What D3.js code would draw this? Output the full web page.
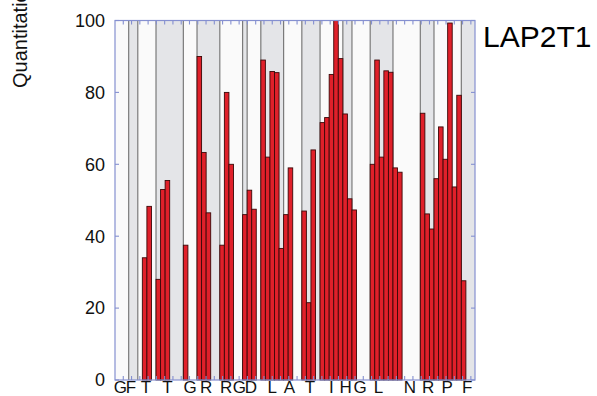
<!DOCTYPE html>
<html>
<head>
<meta charset="utf-8">
<script src="https://cdn.jsdelivr.net/npm/d3@7"></script>
<style>
  html, body { margin: 0; padding: 0; background: #fff; }
  svg { display: block; }
</style>
</head>
<body>
<div id="chart"></div>
<script>
// bar slots (position along the sequence axis) and their quantitation values
const slots = [6, 7, 9, 10, 11, 15, 18, 19, 20, 23, 24, 25, 28, 29, 30, 32, 33, 34, 35, 36, 37, 38,
  41, 42, 43, 45, 46, 47, 48, 49, 50, 51, 52, 56, 57, 58, 59, 60, 61, 62, 67, 68, 69, 70, 71, 72, 73, 74, 75, 76];
const values = [34, 48.3, 28, 53, 55.5, 37.5, 90, 63.3, 46.5, 37.5, 80, 60, 46, 52.8, 47.5, 89, 62, 85.8, 85.5, 36.6, 46, 59,
  47, 21.5, 64, 71.6, 73, 85, 100, 89.4, 74, 50.4, 47.3, 60, 89, 62, 86, 85.6, 59, 57.8, 74.2, 46.2, 42, 56, 70.4, 61.4, 99.3, 53.7, 79.2, 27.6];

// peptide band boundaries (alternating white / grey)
const bandEdges = [0, 3, 5, 9, 15, 18, 23, 28, 29, 32, 37, 41, 45, 50, 52, 56, 61, 67, 70, 76, 79];

// residue letters under the axis and where they sit
const letters = ["G", "F", "T", "T", "G", "R", "R", "G", "D", "L", "A", "T", "I", "H", "G", "L", "N", "R", "P", "F"];
const letterPos = [1.2, 3.5, 6.8, 11.5, 16.5, 20, 24.4, 27.3, 29.8, 34.5, 38.3, 42.8, 47.5, 50.6, 53.8, 57.8, 64.7, 68.7, 72.9, 77.3];

const yTicks = [0, 20, 40, 60, 80, 100];
const residueCount = 43;

const width = 597, height = 396;
const plotLeft = 115, plotRight = 475, plotTop = 20.5, plotBottom = 380;
const frameColor = "#8590d0";

const svg = d3.select("#chart").append("svg")
  .attr("width", width)
  .attr("height", height)
  .attr("font-family", "'Liberation Sans', Arial, sans-serif");

const x = d3.scaleLinear().domain([0, 79]).range([plotLeft, plotRight]);
const y = d3.scaleLinear().domain([0, 100]).range([plotBottom, plotTop]);
const res = d3.scaleLinear().domain([0, residueCount + 0.5]).range([plotLeft, plotRight]);

// background bands
const bands = d3.pairs(bandEdges);
svg.append("g")
  .selectAll("rect")
  .data(bands)
  .join("rect")
  .attr("x", d => x(d[0]))
  .attr("y", plotTop)
  .attr("width", d => x(d[1]) - x(d[0]))
  .attr("height", plotBottom - plotTop)
  .attr("fill", (d, i) => i % 2 ? "#e4e5e8" : "#fafafa");

// band separators
svg.append("g")
  .attr("stroke", "#7a7a7a")
  .attr("stroke-width", 1.2)
  .selectAll("line")
  .data(bandEdges.slice(1, -1))
  .join("line")
  .attr("x1", d => x(d))
  .attr("x2", d => x(d))
  .attr("y1", plotTop)
  .attr("y2", plotBottom);

// bars
svg.append("g")
  .selectAll("rect")
  .data(slots)
  .join("rect")
  .attr("x", d => x(d))
  .attr("y", (d, i) => y(values[i]))
  .attr("width", d => x(d + 1) - x(d))
  .attr("height", (d, i) => y(0) - y(values[i]))
  .attr("fill", "#e0202a")
  .attr("stroke", "#3a0808")
  .attr("stroke-width", 0.9);

// frame
svg.append("rect")
  .attr("x", plotLeft)
  .attr("y", plotTop)
  .attr("width", plotRight - plotLeft)
  .attr("height", plotBottom - plotTop)
  .attr("fill", "none")
  .attr("stroke", frameColor)
  .attr("stroke-width", 1.2);

// residue ticks, top and bottom, pointing in
const rt = d3.range(1, residueCount + 1);
const tickG = svg.append("g").attr("stroke", frameColor).attr("stroke-width", 1.1);
tickG.selectAll(".tt").data(rt).join("line")
  .attr("x1", d => res(d)).attr("x2", d => res(d))
  .attr("y1", plotTop).attr("y2", plotTop + 4);
tickG.selectAll(".tb").data(rt).join("line")
  .attr("x1", d => res(d)).attr("x2", d => res(d))
  .attr("y1", plotBottom).attr("y2", plotBottom - 4);

// value ticks on both sides, pointing in
tickG.selectAll(".yl").data(yTicks).join("line")
  .attr("x1", plotLeft).attr("x2", plotLeft + 4)
  .attr("y1", d => y(d)).attr("y2", d => y(d));
tickG.selectAll(".yr").data(yTicks).join("line")
  .attr("x1", plotRight).attr("x2", plotRight - 4)
  .attr("y1", d => y(d)).attr("y2", d => y(d));

// y tick labels
svg.append("g")
  .selectAll("text")
  .data(yTicks)
  .join("text")
  .attr("x", 105)
  .attr("y", d => y(d))
  .attr("dy", "0.35em")
  .attr("text-anchor", "end")
  .attr("font-size", 18)
  .attr("fill", "#111")
  .text(d => d);

// residue letters
svg.append("g")
  .selectAll("text")
  .data(letters)
  .join("text")
  .attr("x", (d, i) => x(letterPos[i]))
  .attr("y", 393)
  .attr("text-anchor", "middle")
  .attr("font-size", 17)
  .attr("fill", "#111")
  .text(d => d);

// y axis title (runs off the top edge)
svg.append("text")
  .attr("transform", "translate(27,88) rotate(-90)")
  .attr("font-size", 20)
  .attr("fill", "#111")
  .text("Quantitation (%)");

// protein name
svg.append("text")
  .attr("x", 483)
  .attr("y", 47)
  .attr("font-size", 30)
  .attr("fill", "#000")
  .text("LAP2T1");
</script>
</body>
</html>
